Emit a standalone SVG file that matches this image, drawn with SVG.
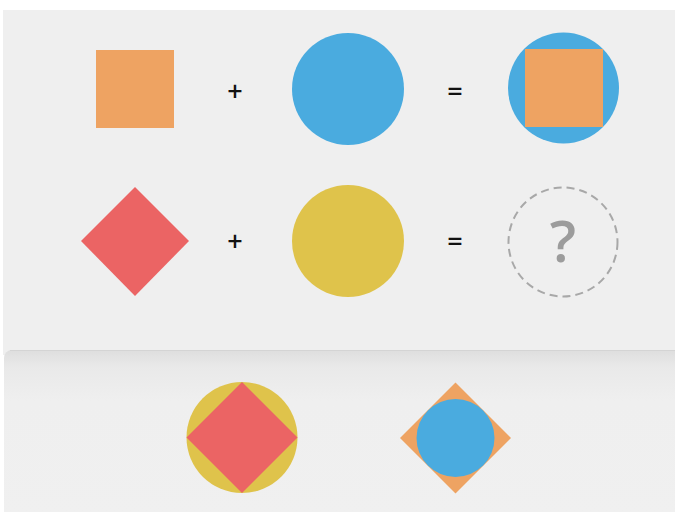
<svg xmlns="http://www.w3.org/2000/svg" width="675" height="512" viewBox="0 0 675 512">
  <defs>
    <linearGradient id="shadow" x1="0" y1="0" x2="0" y2="1">
      <stop offset="0" stop-color="#dedede"/>
      <stop offset="0.1" stop-color="#e9e9e9"/>
      <stop offset="0.3" stop-color="#efefef"/>
      <stop offset="1" stop-color="#f0f0f0"/>
    </linearGradient>
    <style>
      .op { font-family: "Open Sans", "Liberation Sans", Arial, sans-serif; font-size: 27px; font-weight: 600; fill: #111; text-anchor: middle; }
      .orange { fill: #EEA362; }
      .blue { fill: #4AABDF; }
      .red { fill: #EB6464; }
      .yellow { fill: #DFC34B; }
      .q { font-family: "Open Sans", "Liberation Sans", Arial, sans-serif; font-size: 58px; font-weight: 600; fill: #9c9c9c; text-anchor: middle; }
    </style>
  </defs>
  <rect x="0" y="0" width="675" height="512" fill="#ffffff"/>
  <rect id="top-panel" x="3" y="10" width="672" height="345" fill="#efefef"/>
  <g id="bottom-panel">
    <rect x="4" y="350" width="680" height="170" rx="8" fill="url(#shadow)"/>
    <line x1="10" y1="350.5" x2="675" y2="350.5" stroke="#d4d4d4" stroke-width="1"/>
  </g>

  <g id="orange-square"><rect class="orange" x="96" y="50" width="78" height="78"/></g>
  <g id="plus-1"><text class="op" x="235" y="101">+</text></g>
  <g id="blue-circle"><circle class="blue" cx="348" cy="89" r="56"/></g>
  <g id="equals-1"><text class="op" x="455" y="101">=</text></g>
  <g id="result-1">
    <circle class="blue" cx="563.5" cy="88" r="55.5"/>
    <rect class="orange" x="525" y="49" width="78" height="78"/>
  </g>

  <g id="red-diamond"><polygon class="red" points="135,187 189,241 135,296 81,241"/></g>
  <g id="plus-2"><text class="op" x="235" y="251">+</text></g>
  <g id="yellow-circle"><circle class="yellow" cx="348" cy="241" r="56"/></g>
  <g id="equals-2"><text class="op" x="455" y="251">=</text></g>
  <g id="unknown">
    <circle cx="563" cy="242" r="54.5" fill="none" stroke="#a8a8a8" stroke-width="2" stroke-dasharray="8,5"/>
    <text class="q" x="563" y="262">?</text>
  </g>

  <g id="option-a">
    <circle class="yellow" cx="242" cy="437.5" r="55.5"/>
    <polygon class="red" points="242,382 297.5,437.5 242,493 186.5,437.5"/>
  </g>
  <g id="option-b">
    <polygon class="orange" points="455.5,382.5 511,438 455.5,493.5 400,438"/>
    <circle class="blue" cx="455.5" cy="438" r="39"/>
  </g>
</svg>
